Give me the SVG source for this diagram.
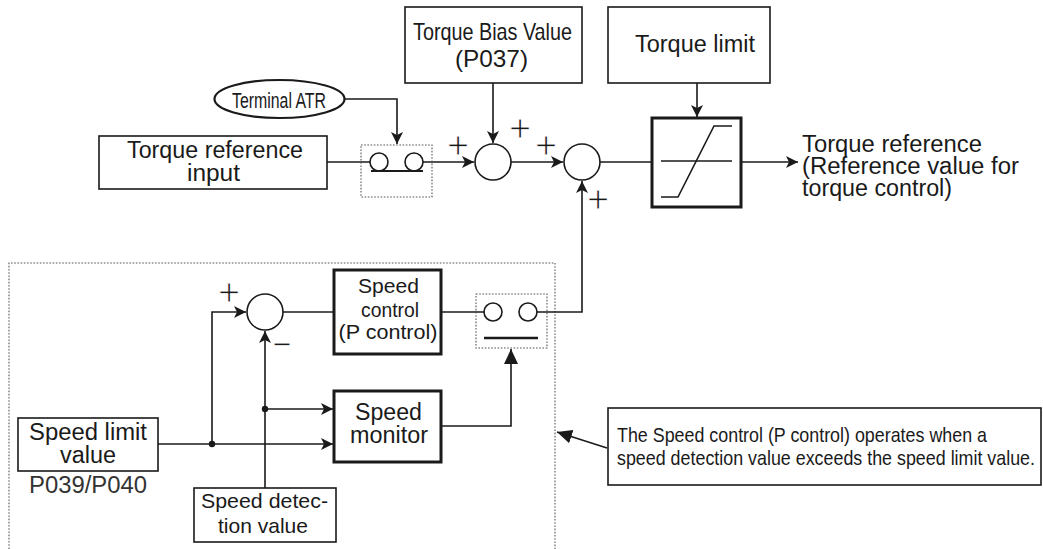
<svg xmlns="http://www.w3.org/2000/svg" width="1043" height="549" viewBox="0 0 1043 549">
<style>
text{font-family:"Liberation Sans",Arial,sans-serif;fill:#1a1a1a}
.t23{font-size:23px}
.t21{font-size:21px}
.mid{text-anchor:middle}
.box{fill:#fff;stroke:#1a1a1a;stroke-width:1.6}
.tbox{fill:#fff;stroke:#1a1a1a;stroke-width:3}
.dot{fill:none;stroke:#555;stroke-width:1.1;stroke-dasharray:1.6 1.6}
.ln{fill:none;stroke:#1a1a1a;stroke-width:1.6}
.sum{fill:#fff;stroke:#1a1a1a;stroke-width:1.6}
.sign{font-family:"Liberation Sans",Arial,sans-serif;font-size:38px;text-anchor:middle;fill:#1a1a1a;stroke:#fff;stroke-width:1}
</style>
<defs>
<marker id="ah" markerUnits="userSpaceOnUse" markerWidth="14" markerHeight="12" refX="12" refY="6" orient="auto">
<path d="M0,0 L12,6 L0,12 L3,6 Z" fill="#1a1a1a"/>
</marker>
<marker id="ahb" markerUnits="userSpaceOnUse" markerWidth="16" markerHeight="14" refX="15" refY="7" orient="auto">
<path d="M0,0 L15,7 L0,14 Z" fill="#1a1a1a"/>
</marker>
</defs>

<!-- big dotted region -->
<path class="dot" d="M9,549 V263 H555 V549"/>

<g id="connectors">
<path class="ln" d="M345,99 H397 V144" marker-end="url(#ah)"/>
<path class="ln" d="M327,162 H370"/>
<path class="ln" d="M423,162 H474" marker-end="url(#ah)"/>
<path class="ln" d="M493,83 V143" marker-end="url(#ah)"/>
<path class="ln" d="M511,162 H563" marker-end="url(#ah)"/>
<path class="ln" d="M600,162 H652"/>
<path class="ln" d="M697,83 V117" marker-end="url(#ah)"/>
<path class="ln" d="M741,162 H798" marker-end="url(#ah)"/>
<path class="ln" d="M283,312 H334"/>
<path class="ln" d="M441,312 H484"/>
<path class="ln" d="M537,312 H582 V181" marker-end="url(#ah)"/>
<path class="ln" d="M158,444 H333" marker-end="url(#ah)"/>
<path class="ln" d="M212,444 V312 H246" marker-end="url(#ah)"/>
<path class="ln" d="M265,488 V331" marker-end="url(#ah)"/>
<path class="ln" d="M265,409 H333" marker-end="url(#ah)"/>
<path class="ln" d="M441,426 H511 V349" marker-end="url(#ahb)"/>
<path class="ln" d="M607,448 L557,432" marker-end="url(#ahb)"/>
<circle cx="212" cy="444" r="3.2" fill="#1a1a1a"/>
<circle cx="265" cy="409" r="3.2" fill="#1a1a1a"/>
</g>

<g id="terminal-atr">
<ellipse cx="279.5" cy="99" rx="65" ry="19" fill="#fff" stroke="#1a1a1a" stroke-width="2.2"/>
<text x="279" y="107.5" class="mid" font-size="22.5" textLength="94" lengthAdjust="spacingAndGlyphs">Terminal ATR</text>
</g>

<g id="torque-ref-input">
<rect class="box" x="99" y="136" width="228" height="53"/>
<text x="215" y="158" class="t23 mid" textLength="176" lengthAdjust="spacingAndGlyphs">Torque reference</text>
<text x="213.5" y="181" class="t23 mid" textLength="53" lengthAdjust="spacingAndGlyphs">input</text>
</g>

<g id="switch1">
<rect class="dot" x="361" y="145" width="71" height="52"/>
<circle cx="379" cy="162" r="9" fill="#fff" stroke="#1a1a1a" stroke-width="1.6"/>
<circle cx="414" cy="162" r="9" fill="#fff" stroke="#1a1a1a" stroke-width="1.6"/>
<path d="M371,171 H423" stroke="#1a1a1a" stroke-width="2.2"/>
</g>

<g id="torque-bias">
<rect class="box" x="405" y="7" width="177" height="76"/>
<text x="492.5" y="39.5" class="mid" font-size="24" textLength="159" lengthAdjust="spacingAndGlyphs">Torque Bias Value</text>
<text x="491.5" y="67" class="mid" font-size="24" textLength="73" lengthAdjust="spacingAndGlyphs">(P037)</text>
</g>

<g id="sum1">
<circle class="sum" cx="493" cy="162" r="18"/>
<text class="sign" x="458" y="158">+</text>
<text class="sign" x="520" y="141">+</text>
</g>

<g id="sum2">
<circle class="sum" cx="582" cy="162" r="18"/>
<text class="sign" x="546" y="158">+</text>
<text class="sign" x="598" y="212">+</text>
</g>

<g id="torque-limit">
<rect class="box" x="608" y="7" width="162" height="76"/>
<text x="695" y="52" class="t23 mid" textLength="120" lengthAdjust="spacingAndGlyphs">Torque limit</text>
</g>

<g id="limiter">
<rect class="tbox" x="652" y="118" width="89" height="89"/>
<path class="ln" d="M661,161 H732"/>
<path class="ln" d="M732,126 H714 L678,197 H661"/>
</g>

<g id="torque-output">
<text x="802" y="152" class="t23" textLength="180" lengthAdjust="spacingAndGlyphs">Torque reference</text>
<text x="802" y="174" class="t23" textLength="217" lengthAdjust="spacingAndGlyphs">(Reference value for</text>
<text x="802" y="196" class="t23" textLength="150" lengthAdjust="spacingAndGlyphs">torque control)</text>
</g>

<g id="sum3">
<circle class="sum" cx="265" cy="312" r="18"/>
<text class="sign" x="229" y="305">+</text>
<text class="sign" x="282" y="357" textLength="19" lengthAdjust="spacingAndGlyphs">−</text>
</g>

<g id="speed-control">
<rect class="tbox" x="334" y="270" width="107" height="84"/>
<text x="388.5" y="293" class="t21 mid" textLength="61" lengthAdjust="spacingAndGlyphs">Speed</text>
<text x="390" y="317" class="t21 mid" textLength="58" lengthAdjust="spacingAndGlyphs">control</text>
<text x="388" y="339" class="t21 mid" textLength="99" lengthAdjust="spacingAndGlyphs">(P control)</text>
</g>

<g id="switch2">
<rect class="dot" x="476" y="294" width="71" height="54"/>
<circle cx="493" cy="312" r="9" fill="#fff" stroke="#1a1a1a" stroke-width="1.6"/>
<circle cx="528" cy="312" r="9" fill="#fff" stroke="#1a1a1a" stroke-width="1.6"/>
<path d="M484,338 H538" stroke="#1a1a1a" stroke-width="2.6"/>
</g>

<g id="speed-monitor">
<rect class="tbox" x="334" y="391" width="107" height="71"/>
<text x="388.5" y="420" class="t23 mid" textLength="67" lengthAdjust="spacingAndGlyphs">Speed</text>
<text x="389" y="443" class="t23 mid" textLength="78" lengthAdjust="spacingAndGlyphs">monitor</text>
</g>

<g id="speed-limit">
<rect class="box" x="18" y="418" width="140" height="53"/>
<text x="88" y="440" class="t23 mid" textLength="118" lengthAdjust="spacingAndGlyphs">Speed limit</text>
<text x="88" y="463" class="t23 mid" textLength="56" lengthAdjust="spacingAndGlyphs">value</text>
<text x="88" y="493" class="t23 mid" style="fill:#333" textLength="118" lengthAdjust="spacingAndGlyphs">P039/P040</text>
</g>

<g id="speed-detection">
<rect class="box" x="194" y="488" width="142" height="54"/>
<text x="264.5" y="508" class="t21 mid" textLength="127" lengthAdjust="spacingAndGlyphs">Speed detec-</text>
<text x="263" y="533" class="t21 mid" textLength="90" lengthAdjust="spacingAndGlyphs">tion value</text>
</g>

<g id="note">
<rect class="box" x="608" y="408" width="433" height="77"/>
<text x="617" y="442" class="t21" textLength="370" lengthAdjust="spacingAndGlyphs">The Speed control (P control) operates when a</text>
<text x="617" y="465" class="t21" textLength="418" lengthAdjust="spacingAndGlyphs">speed detection value exceeds the speed limit value.</text>
</g>
</svg>
